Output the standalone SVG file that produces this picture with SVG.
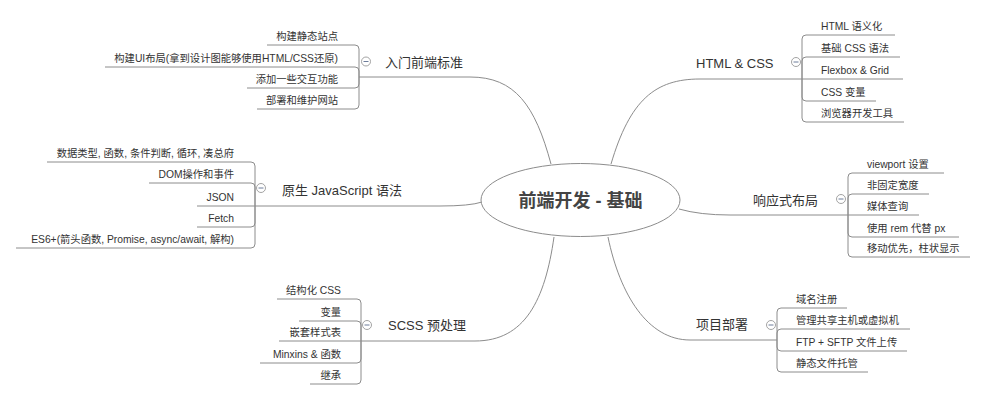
<svg xmlns="http://www.w3.org/2000/svg" width="986" height="400" viewBox="0 0 986 400">
<style>
text{font-family:"Liberation Sans","Noto Sans CJK SC",sans-serif;fill:#333}
.c{font-size:10.3px}
.b{font-size:13px}
.e{text-anchor:end}
.root{font-size:18px;font-weight:bold;text-anchor:middle;fill:#444}
.ln{fill:none;stroke:#8c8c8c;stroke-width:1}
.tg circle{fill:#fff;stroke:#999;stroke-width:0.9}
.tg line{stroke:#6d7c9a;stroke-width:1}
</style>
<rect width="986" height="400" fill="#fff"/>
<g id="connectors" class="ln">
<!-- main branches -->
<path d="M551 164 C535 105 515 77 470 77 H359"/>
<path d="M611 164 C630 100 655 79 700 79 H802"/>
<path d="M482 202 Q470 206 440 206 H255"/>
<path d="M679 209 Q700 215 730 215 H848"/>
<path d="M554 237 C545 300 525 341 475 341 H361"/>
<path d="M608 237 C620 295 648 340 690 340 H777"/>
<!-- 入门前端标准 children -->
<path d="M359 77 V49 Q359 45 355 45 H267"/>
<path d="M359 77 V71 Q359 67 355 67 H105"/>
<path d="M359 77 V84 Q359 88 355 88 H247"/>
<path d="M359 77 V105 Q359 109 355 109 H257"/>
<!-- JavaScript children -->
<path d="M255 206 V166 Q255 162 251 162 H47"/>
<path d="M255 206 V187 Q255 183 251 183 H149"/>
<path d="M255 206 H197"/>
<path d="M255 206 V223 Q255 227 251 227 H197"/>
<path d="M255 206 V244 Q255 248 251 248 H16"/>
<!-- SCSS children -->
<path d="M361 341 V303 Q361 299 357 299 H277"/>
<path d="M361 341 V325 Q361 321 357 321 H299"/>
<path d="M361 341 H279"/>
<path d="M361 341 V359 Q361 363 357 363 H260"/>
<path d="M361 341 V380 Q361 384 357 384 H310"/>
<!-- HTML & CSS children -->
<path d="M802 79 V39 Q802 35 806 35 H895"/>
<path d="M802 79 V61 Q802 57 806 57 H900"/>
<path d="M802 79 H903"/>
<path d="M802 79 V97 Q802 101 806 101 H876"/>
<path d="M802 79 V118 Q802 122 806 122 H904"/>
<!-- 响应式布局 children -->
<path d="M848 215 V177 Q848 173 852 173 H944"/>
<path d="M848 215 V198 Q848 194 852 194 H929"/>
<path d="M848 215 H919"/>
<path d="M848 215 V233 Q848 237 852 237 H959"/>
<path d="M848 215 V253 Q848 257 852 257 H970"/>
<!-- 项目部署 children -->
<path d="M777 340 V312 Q777 308 781 308 H847"/>
<path d="M777 340 V333 Q777 329 781 329 H910"/>
<path d="M777 340 V347 Q777 351 781 351 H907"/>
<path d="M777 340 V368 Q777 372 781 372 H868"/>
</g>
<g id="node-root">
<ellipse cx="580.5" cy="200" rx="99.5" ry="36.5" fill="#fff" stroke="#8c8c8c" stroke-width="1"/>
<text class="root" x="580.5" y="206.5">前端开发 - 基础</text>
</g>
<g id="node-intro">
<text class="b" x="385" y="66.5">入门前端标准</text>
<g class="tg"><circle cx="366" cy="61.5" r="4.5"/><line x1="363.5" y1="61.5" x2="368.5" y2="61.5"/></g>
</g>
<g id="node-intro-1"><text class="c e" x="338" y="39.5">构建静态站点</text></g>
<g id="node-intro-2"><text class="c e" x="338" y="61.5">构建UI布局(拿到设计图能够使用HTML/CSS还原)</text></g>
<g id="node-intro-3"><text class="c e" x="338" y="82.5">添加一些交互功能</text></g>
<g id="node-intro-4"><text class="c e" x="338" y="103.5">部署和维护网站</text></g>
<g id="node-js">
<text class="b" x="282" y="195">原生 JavaScript 语法</text>
<g class="tg"><circle cx="261" cy="188" r="4.5"/><line x1="258.5" y1="188" x2="263.5" y2="188"/></g>
</g>
<g id="node-js-1"><text class="c e" x="234" y="156.5">数据类型, 函数, 条件判断, 循环, 凑总府</text></g>
<g id="node-js-2"><text class="c e" x="234" y="177.5">DOM操作和事件</text></g>
<g id="node-js-3"><text class="c e" x="234" y="200.5">JSON</text></g>
<g id="node-js-4"><text class="c e" x="234" y="221.5">Fetch</text></g>
<g id="node-js-5"><text class="c e" x="234" y="242.5">ES6+(箭头函数, Promise, async/await, 解构)</text></g>
<g id="node-scss">
<text class="b" x="388" y="330">SCSS 预处理</text>
<g class="tg"><circle cx="367" cy="325" r="4.5"/><line x1="364.5" y1="325" x2="369.5" y2="325"/></g>
</g>
<g id="node-scss-1"><text class="c e" x="341" y="293.5">结构化 CSS</text></g>
<g id="node-scss-2"><text class="c e" x="341" y="315.5">变量</text></g>
<g id="node-scss-3"><text class="c e" x="341" y="335.5">嵌套样式表</text></g>
<g id="node-scss-4"><text class="c e" x="341" y="357.5">Minxins &amp; 函数</text></g>
<g id="node-scss-5"><text class="c e" x="341" y="378.5">继承</text></g>
<g id="node-html">
<text class="b" x="696" y="68">HTML &amp; CSS</text>
<g class="tg"><circle cx="796" cy="62" r="4.5"/><line x1="793.5" y1="62" x2="798.5" y2="62"/></g>
</g>
<g id="node-html-1"><text class="c" x="821" y="29.5">HTML 语义化</text></g>
<g id="node-html-2"><text class="c" x="821" y="51.5">基础 CSS 语法</text></g>
<g id="node-html-3"><text class="c" x="821" y="73.5">Flexbox &amp; Grid</text></g>
<g id="node-html-4"><text class="c" x="821" y="95.5">CSS 变量</text></g>
<g id="node-html-5"><text class="c" x="821" y="116.5">浏览器开发工具</text></g>
<g id="node-resp">
<text class="b" x="753" y="204.5">响应式布局</text>
<g class="tg"><circle cx="841" cy="199" r="4.5"/><line x1="838.5" y1="199" x2="843.5" y2="199"/></g>
</g>
<g id="node-resp-1"><text class="c" x="867" y="167.5">viewport 设置</text></g>
<g id="node-resp-2"><text class="c" x="867" y="188.5">非固定宽度</text></g>
<g id="node-resp-3"><text class="c" x="867" y="209.5">媒体查询</text></g>
<g id="node-resp-4"><text class="c" x="867" y="231.5">使用 rem 代替 px</text></g>
<g id="node-resp-5"><text class="c" x="867" y="251.5">移动优先，柱状显示</text></g>
<g id="node-deploy">
<text class="b" x="696" y="329">项目部署</text>
<g class="tg"><circle cx="771" cy="325" r="4.5"/><line x1="768.5" y1="325" x2="773.5" y2="325"/></g>
</g>
<g id="node-deploy-1"><text class="c" x="796" y="302.5">域名注册</text></g>
<g id="node-deploy-2"><text class="c" x="796" y="323.5">管理共享主机或虚拟机</text></g>
<g id="node-deploy-3"><text class="c" x="796" y="345.5">FTP + SFTP 文件上传</text></g>
<g id="node-deploy-4"><text class="c" x="796" y="366.5">静态文件托管</text></g>
</svg>
